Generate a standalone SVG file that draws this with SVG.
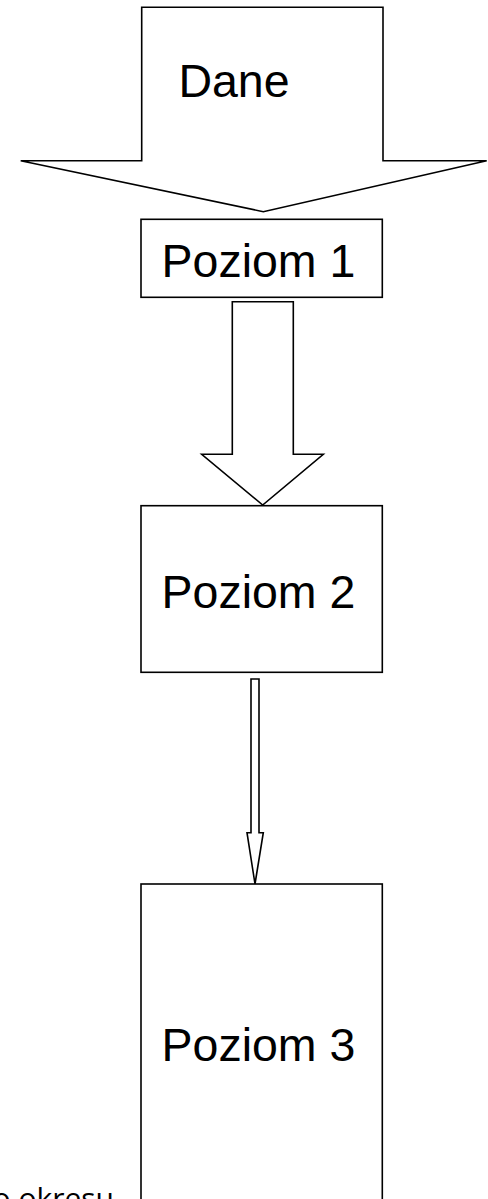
<svg xmlns="http://www.w3.org/2000/svg" width="488" height="1199" viewBox="0 0 488 1199">
<style>
.s{fill:#fff;stroke:#000;stroke-width:1.6;stroke-linejoin:miter}
.t{font-family:"Liberation Sans",Arial,sans-serif;font-size:46.5px;fill:#000}
.n{font-family:"Open Sans",sans-serif;font-size:30px;fill:#000}
</style>
<rect width="488" height="1199" fill="#fff"/>
<g id="dane">
<polygon class="s" points="141.7,7.3 383,7.3 383,160.7 486.7,160.7 263.3,211.7 20.7,160.7 141.7,160.7"/>
<text class="t" x="234" y="97" text-anchor="middle">Dane</text>
</g>
<g id="connectors">
<polygon class="s" points="232.3,301.7 293.3,301.7 293.3,454.3 323.3,454.3 262.7,505 201.7,454.3 232.3,454.3"/>
<polygon class="s" points="251,679 259,679 259,832.7 263.3,832.7 255,884 247,832.7 251,832.7"/>
</g>
<g id="poziom1">
<rect class="s" x="141" y="219.3" width="241.3" height="78"/>
<text class="t" x="161.5" y="276.5">Poziom 1</text>
</g>
<g id="poziom2">
<rect class="s" x="141" y="505.7" width="241.3" height="166.6"/>
<text class="t" x="161.5" y="607.5">Poziom 2</text>
</g>
<g id="poziom3">
<rect class="s" x="141" y="884" width="241.3" height="340"/>
<text class="t" x="161.5" y="1061">Poziom 3</text>
</g>
<g id="note">
<text class="n" x="114" y="1209" text-anchor="end">do okresu</text>
</g>
</svg>
